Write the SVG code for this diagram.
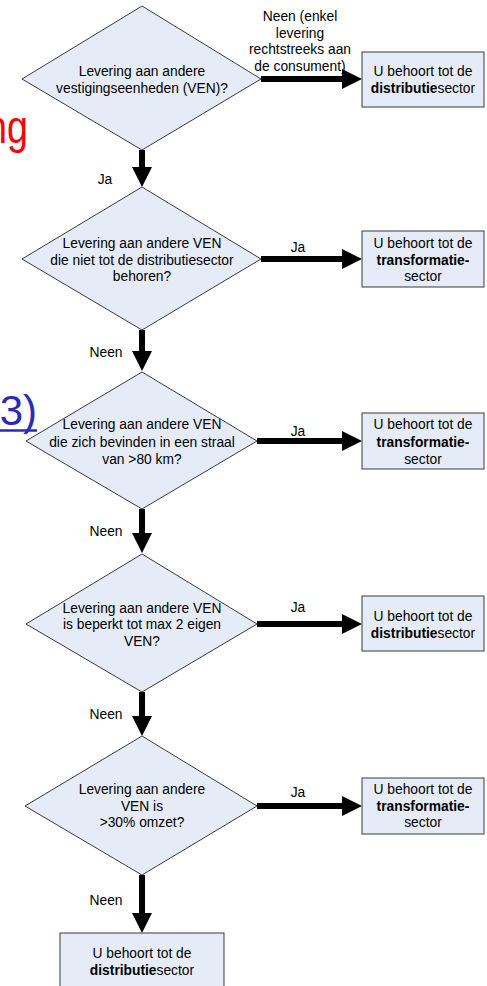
<svg xmlns="http://www.w3.org/2000/svg" width="487" height="986" viewBox="0 0 487 986">
  <style>
    .shape { fill: #e6ecf7; stroke: #3a3a3a; stroke-width: 1; }
    text { font-family: "Liberation Sans", Arial, sans-serif; font-size: 13.8px; fill: #000; }
    .c { text-anchor: middle; }
    .b { font-weight: bold; }
    .flow { stroke: #000; stroke-width: 6; fill: none; marker-end: url(#head); }
  </style>
  <defs>
    <marker id="head" markerUnits="userSpaceOnUse" markerWidth="20" markerHeight="20" refX="1" refY="10" orient="auto">
      <path d="M0,0 L20,10 L0,20 z" fill="#000"/>
    </marker>
  </defs>

  <!-- fragments of slide text behind the chart -->
  <text transform="translate(28,143) scale(0.82,1)" style="font-size:46px;fill:#ff0000;text-anchor:end">ng</text>
  <g id="link">
    <text x="37" y="425" style="font-size:42px;fill:#2a2ab8;text-anchor:end">3)</text>
    <line x1="0" y1="430.5" x2="37" y2="430.5" stroke="#2a2ab8" stroke-width="2.5"/>
  </g>

  <!-- connectors -->
  <g id="connectors">
    <path class="flow" d="M261,79 H343"/>
    <path class="flow" d="M142,150 V168"/>
    <path class="flow" d="M261,259 H343"/>
    <path class="flow" d="M142,330 V352"/>
    <path class="flow" d="M257,441 H343"/>
    <path class="flow" d="M142,509 V534"/>
    <path class="flow" d="M257,624 H343"/>
    <path class="flow" d="M142,692 V717"/>
    <path class="flow" d="M257,806 H343"/>
    <path class="flow" d="M142,875 V914"/>
  </g>

  <!-- connector labels -->
  <g id="labels">
    <text class="c" x="300" y="21">Neen (enkel</text>
    <text class="c" x="300" y="38">levering</text>
    <text class="c" x="300" y="54">rechtstreeks aan</text>
    <text class="c" x="300" y="71">de consument)</text>
    <text class="c" x="105" y="184">Ja</text>
    <text class="c" x="298" y="252">Ja</text>
    <text class="c" x="106" y="357">Neen</text>
    <text class="c" x="298" y="436">Ja</text>
    <text class="c" x="106" y="536">Neen</text>
    <text class="c" x="298" y="612">Ja</text>
    <text class="c" x="106" y="719">Neen</text>
    <text class="c" x="298" y="797">Ja</text>
    <text class="c" x="106" y="905">Neen</text>
  </g>

  <!-- decisions -->
  <g id="q1">
    <polygon class="shape" points="142,6 261,79 142,150 22,79"/>
    <text class="c" x="142" y="76">Levering aan andere</text>
    <text class="c" x="142" y="93">vestigingseenheden (VEN)?</text>
  </g>
  <g id="q2">
    <polygon class="shape" points="142,187 261,259 142,330 22,259"/>
    <text class="c" x="142" y="248">Levering aan andere VEN</text>
    <text class="c" x="142" y="265">die niet tot de distributiesector</text>
    <text class="c" x="142" y="281">behoren?</text>
  </g>
  <g id="q3">
    <polygon class="shape" points="142,372 257,441 142,509 26,441"/>
    <text class="c" x="142" y="429">Levering aan andere VEN</text>
    <text class="c" x="142" y="447">die zich bevinden in een straal</text>
    <text class="c" x="142" y="464">van &gt;80 km?</text>
  </g>
  <g id="q4">
    <polygon class="shape" points="142,554 257,624 142,692 26,624"/>
    <text class="c" x="142" y="613">Levering aan andere VEN</text>
    <text class="c" x="142" y="629">is beperkt tot max 2 eigen</text>
    <text class="c" x="142" y="646">VEN?</text>
  </g>
  <g id="q5">
    <polygon class="shape" points="142,736 257,806 142,875 25,806"/>
    <text class="c" x="142" y="794">Levering aan andere</text>
    <text class="c" x="142" y="811">VEN is</text>
    <text class="c" x="142" y="827">&gt;30% omzet?</text>
  </g>

  <!-- outcomes -->
  <g id="r1">
    <rect class="shape" x="362" y="52" width="122" height="55"/>
    <text class="c" x="423" y="76">U behoort tot de</text>
    <text class="c" x="423" y="93"><tspan class="b">distributie</tspan>sector</text>
  </g>
  <g id="r2">
    <rect class="shape" x="362" y="231" width="122" height="56"/>
    <text class="c" x="423" y="248">U behoort tot de</text>
    <text class="c b" x="423" y="265">transformatie-</text>
    <text class="c" x="423" y="281">sector</text>
  </g>
  <g id="r3">
    <rect class="shape" x="362" y="413" width="122" height="56"/>
    <text class="c" x="423" y="429">U behoort tot de</text>
    <text class="c b" x="423" y="447">transformatie-</text>
    <text class="c" x="423" y="464">sector</text>
  </g>
  <g id="r4">
    <rect class="shape" x="362" y="596" width="122" height="55"/>
    <text class="c" x="423" y="621">U behoort tot de</text>
    <text class="c" x="423" y="638"><tspan class="b">distributie</tspan>sector</text>
  </g>
  <g id="r5">
    <rect class="shape" x="362" y="778" width="122" height="56"/>
    <text class="c" x="423" y="794">U behoort tot de</text>
    <text class="c b" x="423" y="811">transformatie-</text>
    <text class="c" x="423" y="827">sector</text>
  </g>
  <g id="r6">
    <rect class="shape" x="60" y="933" width="164" height="60"/>
    <text class="c" x="142" y="958">U behoort tot de</text>
    <text class="c" x="142" y="975"><tspan class="b">distributie</tspan>sector</text>
  </g>
</svg>
